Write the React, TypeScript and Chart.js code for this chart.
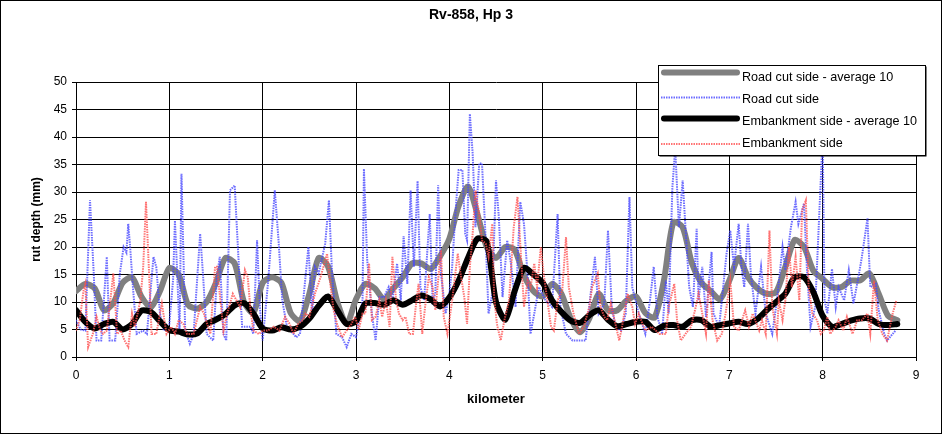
import React, { useEffect, useRef } from 'react';
import { Chart, registerables } from 'chart.js';

Chart.register(...registerables);

const FONT = '"Liberation Sans", Arial, Helvetica, sans-serif';

const chartTitle = 'Rv-858, Hp 3';
const xTitle = 'kilometer';
const yTitle = 'rut depth (mm)';
const seriesNames = ['Road cut side - average 10', 'Road cut side', 'Embankment side - average 10', 'Embankment side'];

// moving averages, sampled every 100 m
const avgKm = [
  0, 0.1, 0.2, 0.3, 0.4, 0.5, 0.6, 0.7, 0.8, 0.9,
  1, 1.1, 1.2, 1.3, 1.4, 1.5, 1.6, 1.7, 1.8, 1.9,
  2, 2.1, 2.2, 2.3, 2.4, 2.5, 2.6, 2.7, 2.8, 2.9,
  3, 3.1, 3.2, 3.3, 3.4, 3.5, 3.6, 3.7, 3.8, 3.9,
  4, 4.1, 4.2, 4.3, 4.4, 4.5, 4.6, 4.7, 4.8, 4.9,
  5, 5.1, 5.2, 5.3, 5.4, 5.5, 5.6, 5.7, 5.8, 5.9,
  6, 6.1, 6.2, 6.3, 6.4, 6.5, 6.6, 6.7, 6.8, 6.9,
  7, 7.1, 7.2, 7.3, 7.4, 7.5, 7.6, 7.7, 7.8, 7.9,
  8, 8.1, 8.2, 8.3, 8.4, 8.5, 8.6, 8.7, 8.8,
];
const roadAvg = [
  12, 13.3, 12.5, 8.5, 9.8, 13.5, 14.5, 11, 9, 12,
  16.2, 15, 9.5, 8.8, 10, 13.5, 18, 17, 10, 8,
  13.5, 14.5, 13.5, 8, 6.5, 11.5, 18, 16.5, 10, 6,
  10.5, 13.3, 12.5, 10.5, 12.5, 14.5, 17, 17, 16, 18.3,
  21.5, 27.5, 31, 26, 20, 18, 20, 19.5, 14.8, 12,
  11, 13.3, 11.5, 7, 4.5, 7, 11.5, 8.5, 8.5, 10.3,
  11, 8, 7.2, 14, 24.5, 23.6, 17, 13.5, 12, 10.5,
  13.9, 18, 14.5, 12.5, 11.5, 11.8, 16.4, 21.3, 20, 15.7,
  14.2, 12.7, 12.7, 13.9, 13.9, 15.2, 11.5, 7.5, 6.7,
];
const embAvg = [
  8.5, 6.4, 5.2, 6, 6.4, 5, 6, 8.4, 8.2, 6.5,
  4.9, 4.6, 4.1, 4.3, 6, 6.8, 7.8, 9.4, 9.8, 7.9,
  5.2, 4.8, 5.4, 5, 5.5, 7, 9.3, 11, 8.5, 6,
  6.5, 9.7, 9.8, 9.5, 10.3, 9.5, 10.3, 11.2, 10.5, 9.2,
  10.8, 13.9, 18, 21.5, 21, 10, 6.8, 12, 16.2, 15,
  13.5, 10.3, 8.2, 6.6, 6.2, 7.6, 8.5, 6.8, 5.6, 6,
  6.4, 6.4, 4.9, 5.7, 5.8, 5.5, 6.7, 6.7, 5.5, 5.8,
  6.1, 6.4, 6, 6.9, 8.5, 10, 11.5, 14.5, 14.5, 11.8,
  7.5, 5.5, 6, 6.6, 7, 7, 6, 5.8, 6,
];

// raw measurements, road cut side
const roadKm = [
  0, 0.05, 0.1, 0.15, 0.19, 0.22, 0.27, 0.33, 0.36, 0.42,
  0.47, 0.51, 0.54, 0.56, 0.58, 0.61, 0.65, 0.72, 0.76, 0.83,
  0.86, 0.9, 0.94, 1.0, 1.04, 1.06, 1.08, 1.11, 1.13, 1.17,
  1.22, 1.26, 1.33, 1.36, 1.4, 1.47, 1.51, 1.54, 1.58, 1.61,
  1.65, 1.7, 1.74, 1.78, 1.83, 1.87, 1.9, 1.94, 1.97, 2.0,
  2.06, 2.13, 2.17, 2.21, 2.26, 2.33, 2.36, 2.4, 2.49, 2.53,
  2.56, 2.6, 2.67, 2.71, 2.74, 2.79, 2.85, 2.9, 2.95, 3.0,
  3.07, 3.085, 3.12, 3.17, 3.21, 3.25, 3.3, 3.35, 3.39, 3.44,
  3.48, 3.51, 3.55, 3.585, 3.62, 3.66, 3.69, 3.73, 3.79, 3.82,
  3.85, 3.88, 3.91, 3.96, 4.0, 4.03, 4.07, 4.1, 4.14, 4.17,
  4.19, 4.22, 4.25, 4.28, 4.32, 4.35, 4.39, 4.42, 4.46, 4.5,
  4.53, 4.57, 4.62, 4.66, 4.71, 4.76, 4.8, 4.84, 4.87, 4.91,
  4.96, 5.03, 5.1, 5.16, 5.19, 5.25, 5.32, 5.39, 5.46, 5.51,
  5.56, 5.6, 5.66, 5.7, 5.74, 5.78, 5.84, 5.89, 5.93, 5.96,
  6.03, 6.1, 6.15, 6.19, 6.23, 6.28, 6.32, 6.35, 6.39, 6.42,
  6.46, 6.5, 6.53, 6.57, 6.61, 6.65, 6.67, 6.71, 6.75, 6.81,
  6.83, 6.89, 6.92, 6.97, 7.01, 7.05, 7.1, 7.13, 7.16, 7.2,
  7.23, 7.28, 7.34, 7.39, 7.46, 7.51, 7.57, 7.6, 7.66, 7.71,
  7.74, 7.8, 7.83, 7.87, 7.92, 8.0, 8.02, 8.05, 8.1, 8.14,
  8.17, 8.23, 8.28, 8.33, 8.39, 8.42, 8.48, 8.51, 8.57, 8.6,
  8.66, 8.69, 8.75, 8.78,
];
const roadDepth = [
  6.7, 5, 4.8, 28.5, 15.2, 3, 3, 18.2, 3, 3,
  15.2, 20, 19, 24.2, 20, 12.7, 4.2, 4.8, 4.2, 18.2,
  16.4, 7.9, 4.8, 6, 14, 24.8, 17, 4.2, 33.3, 4.8,
  2.4, 4.2, 22.4, 15.2, 4.2, 3, 14.5, 18.2, 4.2, 3,
  30.3, 31.2, 18.2, 5.5, 5.5, 5.5, 4.2, 21.2, 9.1, 3,
  14, 30.3, 21.2, 10.3, 5.5, 4.2, 3.6, 4.2, 20, 7.9,
  16.4, 15.2, 20.6, 28.5, 16.4, 4.2, 3.6, 1.8, 4.2, 3.6,
  10.3, 34.2, 17.6, 7.9, 3, 10.9, 10.9, 12.7, 10.3, 17,
  10.3, 22, 13.3, 30.3, 16.4, 32, 12.7, 10.3, 26, 10.3,
  11.5, 31.2, 15.2, 7.9, 11.5, 16.4, 27.3, 34, 34, 22.4,
  21.2, 44.2, 37, 23.6, 35.2, 35.2, 21.2, 7.9, 11.5, 32.1,
  25.5, 10.9, 21.2, 17, 9.1, 28.2, 24.2, 14.5, 4.2, 7.9,
  12.7, 10.3, 9.1, 26, 9.1, 4.2, 3, 3, 3, 10.9,
  18.2, 7.9, 9.7, 23, 9.1, 5.5, 4.8, 7.9, 29.1, 12.7,
  7.9, 4.2, 10.3, 16.4, 7.3, 4.2, 13.9, 7.9, 30.9, 38,
  23.6, 32.1, 23.6, 12.7, 9.1, 23.3, 10.3, 16.4, 7.3, 19.1,
  7.9, 5.5, 10.3, 18.8, 23, 16.4, 24.2, 16.4, 12.7, 24.2,
  15.2, 7.9, 16.4, 7.9, 4.2, 10.3, 20, 15.8, 23.6, 28.2,
  24.2, 27.9, 16.4, 5.5, 9.1, 40, 10.3, 7.9, 16, 9.1,
  12.7, 10.3, 15.8, 9.7, 15.2, 18.2, 25.2, 12.7, 13.3, 8.5,
  4.2, 3, 4.2, 4.8,
];

// raw measurements, embankment side
const embKm = [
  0, 0.04, 0.08, 0.1, 0.13, 0.18, 0.22, 0.26, 0.29, 0.33,
  0.36, 0.4, 0.44, 0.48, 0.52, 0.56, 0.6, 0.63, 0.69, 0.72,
  0.75, 0.78, 0.81, 0.86, 0.92, 0.97, 1.02, 1.06, 1.1, 1.15,
  1.19, 1.26, 1.33, 1.37, 1.44, 1.49, 1.51, 1.54, 1.58, 1.62,
  1.68, 1.72, 1.76, 1.81, 1.84, 1.87, 1.9, 1.96, 2.0, 2.05,
  2.12, 2.18, 2.24, 2.29, 2.33, 2.38, 2.43, 2.46, 2.5, 2.56,
  2.62, 2.69, 2.72, 2.76, 2.8, 2.85, 2.9, 2.95, 2.99, 3.03,
  3.07, 3.1, 3.14, 3.17, 3.21, 3.25, 3.28, 3.32, 3.36, 3.39,
  3.43, 3.46, 3.5, 3.53, 3.57, 3.61, 3.64, 3.67, 3.71, 3.74,
  3.78, 3.82, 3.85, 3.91, 3.94, 3.98, 4.03, 4.09, 4.12, 4.16,
  4.19, 4.22, 4.25, 4.28, 4.32, 4.35, 4.39, 4.42, 4.46, 4.48,
  4.51, 4.55, 4.59, 4.64, 4.69, 4.73, 4.76, 4.8, 4.84, 4.87,
  4.91, 4.94, 4.98, 5.01, 5.05, 5.09, 5.12, 5.16, 5.21, 5.25,
  5.28, 5.33, 5.39, 5.44, 5.5, 5.53, 5.59, 5.62, 5.66, 5.69,
  5.73, 5.78, 5.82, 5.85, 5.91, 5.96, 5.99, 6.03, 6.07, 6.1,
  6.17, 6.25, 6.32, 6.35, 6.41, 6.44, 6.48, 6.53, 6.59, 6.64,
  6.67, 6.71, 6.75, 6.78, 6.82, 6.87, 6.92, 6.96, 7.01, 7.05,
  7.1, 7.17, 7.21, 7.25, 7.32, 7.35, 7.39, 7.43, 7.46, 7.51,
  7.53, 7.57, 7.6, 7.64, 7.67, 7.71, 7.75, 7.78, 7.82, 7.85,
  7.89, 7.94, 7.98, 8.01, 8.05, 8.08, 8.14, 8.17, 8.22, 8.26,
  8.32, 8.37, 8.42, 8.48, 8.51, 8.55, 8.59, 8.64, 8.69, 8.75,
  8.79,
];
const embDepth = [
  4.8, 6.7, 12, 13.3, 1.8, 4.2, 7.3, 4.8, 4.2, 4.8,
  9.1, 15.2, 4.2, 4.8, 3, 1.8, 7.9, 5.5, 10.3, 16.4,
  28.2, 16.4, 4.2, 4.2, 9.7, 4.2, 5.5, 4.2, 6.7, 6,
  4.2, 4.2, 9.1, 7.9, 4.2, 16.4, 16.4, 11.5, 4.8, 7.9,
  11.5, 10.3, 9, 15.8, 14.5, 8.5, 4.8, 4.2, 4.8, 4.8,
  5.5, 4.8, 7.3, 6, 4.2, 6, 6.7, 7.9, 7.3, 11.5,
  14.5, 18.8, 14, 8.5, 5.8, 3.6, 4.8, 6, 7.3, 5,
  7.9, 7.9, 17, 6.7, 7.3, 10.3, 7.3, 10.3, 5.5, 18.2,
  10.3, 7.9, 6.7, 7.3, 4.2, 4.2, 9.1, 13.3, 4.2, 9.1,
  14.5, 12.7, 8.5, 19.4, 7.3, 4.2, 10.3, 18.8, 15.2, 10.9,
  6, 16.4, 22.4, 30.3, 26, 21.2, 20.6, 18.2, 24.2, 11,
  6, 3, 6.7, 10.3, 23.6, 29.1, 20.6, 9.1, 13.9, 12.7,
  17, 12.7, 20, 15.2, 10.3, 5.5, 4.8, 10.3, 12.1, 21.8,
  12.7, 7.9, 4.2, 5.5, 9.1, 12.7, 15.2, 9.1, 7.3, 6.7,
  9.7, 6, 3, 5.5, 11.5, 9.1, 6, 7.9, 6, 4.8,
  5.5, 4.2, 4.2, 9.1, 13.3, 6.7, 3, 4.2, 5.5, 9.1,
  11.5, 7.9, 4.2, 13.9, 6.7, 3, 4.2, 7.9, 13.9, 5.5,
  4.8, 8.5, 5.5, 7.9, 4.8, 6.7, 4.2, 23, 9.1, 4.2,
  10.3, 6.7, 10.3, 20, 12.7, 18.2, 10.3, 26.7, 28.5, 12.7,
  7.9, 6.7, 4.2, 4.8, 7.3, 4.2, 5.5, 6.7, 4.8, 7.3,
  4.2, 6.7, 6.7, 7.9, 4.2, 13.9, 6.7, 4.2, 3, 7.9,
  10.3,
];

const xTicks = { min: 0, max: 9, step: 1 };
const yTicks = { min: 0, max: 50, step: 5 };

const COLORS = {
  roadAvg: '#808080',
  road: 'rgba(70, 70, 255, 0.8)',
  embAvg: '#000000',
  emb: 'rgba(255, 80, 80, 0.8)',
};
const RAW_WIDTH = 2;
const RAW_DASH = [1.5, 1];

const toPoints = (xs: number[], ys: number[]) => xs.map((x, i) => ({ x, y: ys[i] }));

const framePlugin = {
  id: 'frame',
  afterDraw(chart: any) {
    const ctx = chart.ctx as CanvasRenderingContext2D;
    const W = chart.width;
    const H = chart.height;
    ctx.save();
    // outer border
    ctx.strokeStyle = '#000';
    ctx.lineWidth = 1;
    ctx.setLineDash([]);
    ctx.strokeRect(0.5, 0.5, W - 1, H - 1);
    // title
    ctx.fillStyle = '#000';
    ctx.font = `bold 14px ${FONT}`;
    ctx.textAlign = 'center';
    ctx.textBaseline = 'middle';
    ctx.fillText(chartTitle, 471, 15);
    // legend box
    const lx = 658.5, ly = 65.5, lw = 267, lh = 90;
    ctx.fillStyle = '#000';
    ctx.fillRect(lx + 1, ly + 1, lw, lh);
    ctx.fillStyle = '#fff';
    ctx.fillRect(lx, ly, lw, lh);
    ctx.strokeStyle = '#000';
    ctx.strokeRect(lx, ly, lw, lh);
    const entries = [
      { y: 72.5, ty: 77.5, color: COLORS.roadAvg, width: 6, dash: [] as number[] },
      { y: 97.5, ty: 99.5, color: COLORS.road, width: RAW_WIDTH, dash: RAW_DASH },
      { y: 118.5, ty: 121.5, color: COLORS.embAvg, width: 6, dash: [] as number[] },
      { y: 144, ty: 144, color: COLORS.emb, width: RAW_WIDTH, dash: RAW_DASH },
    ];
    entries.forEach((e, i) => {
      ctx.beginPath();
      ctx.strokeStyle = e.color;
      ctx.lineWidth = e.width;
      ctx.lineCap = e.width > 3 ? 'round' : 'butt';
      ctx.setLineDash(e.dash);
      const inset = e.width > 3 ? 3 : 0;
      ctx.moveTo(661 + inset, e.y);
      ctx.lineTo(740 - inset, e.y);
      ctx.stroke();
      ctx.setLineDash([]);
      ctx.fillStyle = '#000';
      ctx.font = `12.6px ${FONT}`;
      ctx.textAlign = 'left';
      ctx.textBaseline = 'middle';
      ctx.fillText(seriesNames[i], 742, e.ty);
    });
    ctx.restore();
  },
};

export default function App() {
  const ref = useRef<HTMLCanvasElement>(null);
  useEffect(() => {
    document.body.style.margin = '0';
    const canvas = ref.current;
    if (!canvas) return;
    const chart = new Chart(canvas, {
      type: 'line',
      data: {
        datasets: [
          {
            label: seriesNames[0],
            data: toPoints(avgKm, roadAvg),
            borderColor: COLORS.roadAvg,
            borderWidth: 6,
            tension: 0.25,
            pointRadius: 0,
            borderCapStyle: 'round',
            borderJoinStyle: 'round',
            order: 4,
          },
          {
            label: seriesNames[1],
            data: toPoints(roadKm, roadDepth),
            borderColor: COLORS.road,
            borderWidth: RAW_WIDTH,
            borderDash: RAW_DASH,
            tension: 0,
            pointRadius: 0,
            order: 3,
          },
          {
            label: seriesNames[2],
            data: toPoints(avgKm, embAvg),
            borderColor: COLORS.embAvg,
            borderWidth: 6,
            tension: 0.25,
            pointRadius: 0,
            borderCapStyle: 'round',
            borderJoinStyle: 'round',
            order: 2,
          },
          {
            label: seriesNames[3],
            data: toPoints(embKm, embDepth),
            borderColor: COLORS.emb,
            borderWidth: RAW_WIDTH,
            borderDash: RAW_DASH,
            tension: 0,
            pointRadius: 0,
            order: 1,
          },
        ],
      },
      options: {
        animation: false,
        responsive: false,
        devicePixelRatio: 1,
        layout: { padding: { left: 10, right: 26, top: 82, bottom: 0 } },
        plugins: {
          legend: { display: false },
          tooltip: { enabled: false },
          title: { display: false },
        },
        scales: {
          x: {
            type: 'linear',
            min: xTicks.min,
            max: xTicks.max,
            ticks: {
              stepSize: xTicks.step,
              color: '#000',
              font: { family: FONT, size: 12 },
              padding: 7,
              maxRotation: 0,
            },
            grid: { color: '#000', lineWidth: 1, tickLength: 4, tickColor: '#000' },
            border: { color: '#000', width: 1 },
            title: {
              display: true,
              text: xTitle,
              color: '#000',
              font: { family: FONT, size: 13, weight: 'bold' },
              padding: { top: 0, bottom: 27 },
            },
            afterFit: (s: any) => {
              s.height = 77;
            },
          },
          y: {
            type: 'linear',
            min: yTicks.min,
            max: yTicks.max,
            ticks: {
              stepSize: yTicks.step,
              color: '#000',
              font: { family: FONT, size: 12 },
              padding: 5,
            },
            grid: { color: '#000', lineWidth: 1, tickLength: 4, tickColor: '#000' },
            border: { color: '#000', width: 1 },
            title: {
              display: true,
              text: yTitle,
              color: '#000',
              font: { family: FONT, size: 12, weight: 'bold' },
              padding: { top: 19, bottom: 0 },
            },
            afterFit: (s: any) => {
              s.width = 66;
            },
          },
        },
      } as any,
      plugins: [framePlugin],
    });
    return () => chart.destroy();
  }, []);
  return (
    <div style={{ width: 942, height: 434 }}>
      <canvas ref={ref} width={942} height={434} style={{ display: 'block', width: 942, height: 434 }} />
    </div>
  );
}
